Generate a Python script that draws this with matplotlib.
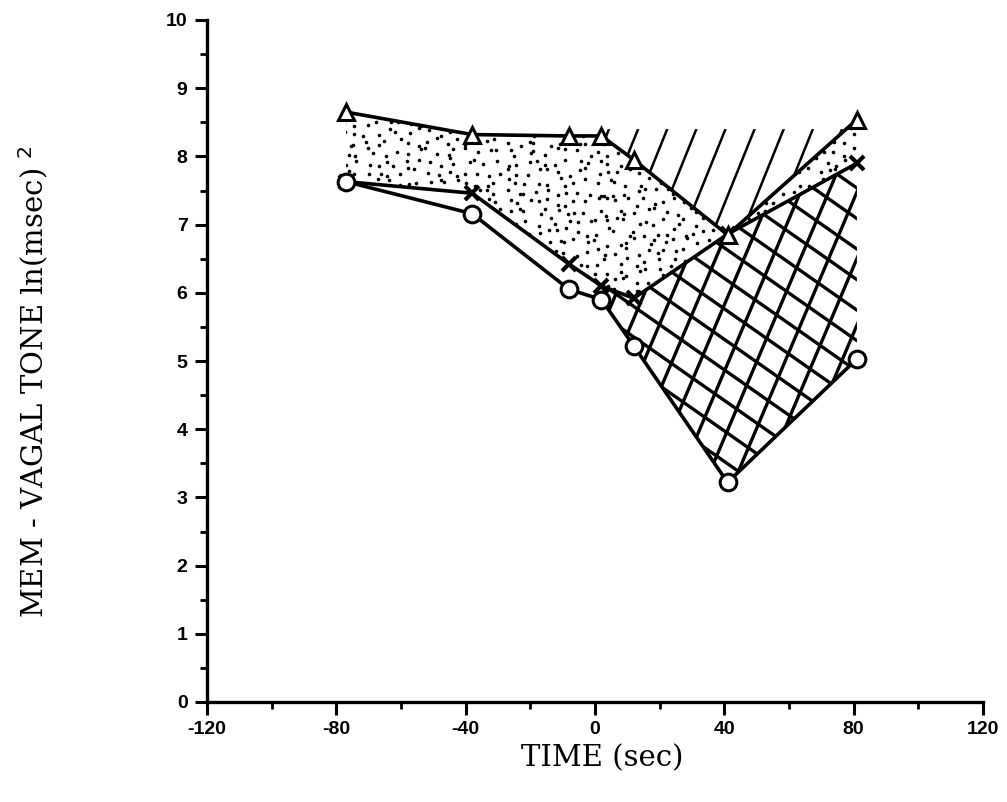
import matplotlib.pyplot as plt
import numpy as np
from matplotlib.collections import LineCollection
from matplotlib.ticker import MultipleLocator

plt.rcParams['axes.unicode_minus'] = False

# values
time_s = np.array([-77, -38, -8, 2, 12, 41, 81])
triangle_tone = np.array([8.65, 8.32, 8.30, 8.30, 7.95, 6.85, 8.54])
cross_tone = np.array([7.63, 7.46, 6.42, 6.10, 5.92, 6.86, 7.90])
circle_tone = np.array([7.63, 7.16, 6.05, 5.90, 5.22, 3.22, 5.03])
hatch_top = 8.4      # upper edge of the single-hatched band
hatch_from = 3       # hatching starts at t = 2 s

x_ticks = [-120, -80, -40, 0, 40, 80, 120]
y_ticks = list(range(0, 11))


def hatch_lines(ax, clip, angle, spacing, lw=2.0):
    """Parallel lines at `angle` degrees (screen), `spacing` px apart, clipped to `clip`."""
    bb = ax.bbox
    cx, cy = (bb.x0 + bb.x1) / 2, (bb.y0 + bb.y1) / 2
    half = np.hypot(bb.width, bb.height)
    th = np.radians(angle)
    d = np.array([np.cos(th), np.sin(th)])
    n = np.array([-np.sin(th), np.cos(th)])
    inv = ax.transData.inverted()
    segs = []
    for k in np.arange(-half, half, spacing):
        p = np.array([cx, cy]) + n * k
        segs.append(inv.transform([p - d * half, p + d * half]))
    lc = LineCollection(segs, colors='black', linewidths=lw, zorder=2)
    ax.add_collection(lc)
    lc.set_clip_path(clip.get_paths()[0], ax.transData)


def stipple(ax, clip, step=10.0, ms=2.6):
    """Jittered grid of dots (hash jitter, no RNG) clipped to `clip`."""
    bb = ax.bbox
    gx, gy = np.meshgrid(np.arange(bb.x0, bb.x1, step), np.arange(bb.y0, bb.y1, step))
    k = np.arange(gx.size).reshape(gx.shape)
    jx = np.mod(np.sin(k * 12.9898) * 43758.5453, 1) - 0.5
    jy = np.mod(np.sin(k * 78.233) * 43758.5453, 1) - 0.5
    px = (gx + jx * step * 0.9).ravel()
    py = (gy + jy * step * 0.9).ravel()
    pts = ax.transData.inverted().transform(np.column_stack([px, py]))
    dots, = ax.plot(pts[:, 0], pts[:, 1], ls='none', marker='o', ms=ms,
                    mfc='black', mec='none', zorder=2)
    dots.set_clip_path(clip.get_paths()[0], ax.transData)


fig = plt.figure(figsize=(10.07, 8.02), dpi=100)
ax = fig.add_axes([207 / 1007, 100 / 802, 776 / 1007, 682 / 802])
ax.set_xlim(-120, 120)
ax.set_ylim(0, 10)

# dotted band between triangle and cross curves
band = ax.fill_between(time_s, cross_tone, triangle_tone, facecolor='none', edgecolor='none')
stipple(ax, band)

# single hatching above the triangle curve
ts = time_s[hatch_from:]
tri = triangle_tone[hatch_from:]
upper = ax.fill_between(ts, tri, hatch_top, where=tri <= hatch_top, interpolate=True,
                        facecolor='none', edgecolor='none')
hatch_lines(ax, upper, 68, 27, lw=1.8)

# cross hatching between cross and circle curves
lower = ax.fill_between(ts, circle_tone[hatch_from:], cross_tone[hatch_from:],
                        facecolor='none', edgecolor='none')
hatch_lines(ax, lower, 67, 26, lw=2.4)
hatch_lines(ax, lower, -35, 25, lw=2.4)

line_kw = dict(color='black', lw=2.6, zorder=4)
ax.plot(time_s, cross_tone, marker='x', ms=10, mew=3, **line_kw)
ax.plot(time_s, circle_tone, marker='o', ms=12, mfc='white', mec='black', mew=2.2, **line_kw)
ax.plot(time_s, triangle_tone, marker='^', ms=12, mfc='white', mec='black', mew=2.2, **line_kw)

# axes styling
for side in ['top', 'right']:
    ax.spines[side].set_visible(False)
for side in ['left', 'bottom']:
    ax.spines[side].set_linewidth(2.4)
ax.set_xticks(x_ticks)
ax.set_yticks(y_ticks)
ax.xaxis.set_minor_locator(MultipleLocator(20))
ax.yaxis.set_minor_locator(MultipleLocator(0.5))
ax.tick_params(which='major', direction='out', length=9, width=2.2, pad=5)
ax.tick_params(which='minor', direction='out', length=5, width=2)
for lab in ax.get_xticklabels() + ax.get_yticklabels():
    lab.set_fontfamily('Liberation Sans')
    lab.set_fontweight('bold')
    lab.set_fontsize(14)

fig.text(602 / 1007, 1 - 758 / 802, 'TIME (sec)', ha='center', va='center',
         fontfamily='DejaVu Serif', fontsize=21)
fig.text(34 / 1007, 1 - 382 / 802, 'MEM - VAGAL TONE ln(msec) $^{2}$', ha='center', va='center',
         rotation=90, fontfamily='DejaVu Serif', fontsize=21)

fig.savefig('out.png', dpi=100)
